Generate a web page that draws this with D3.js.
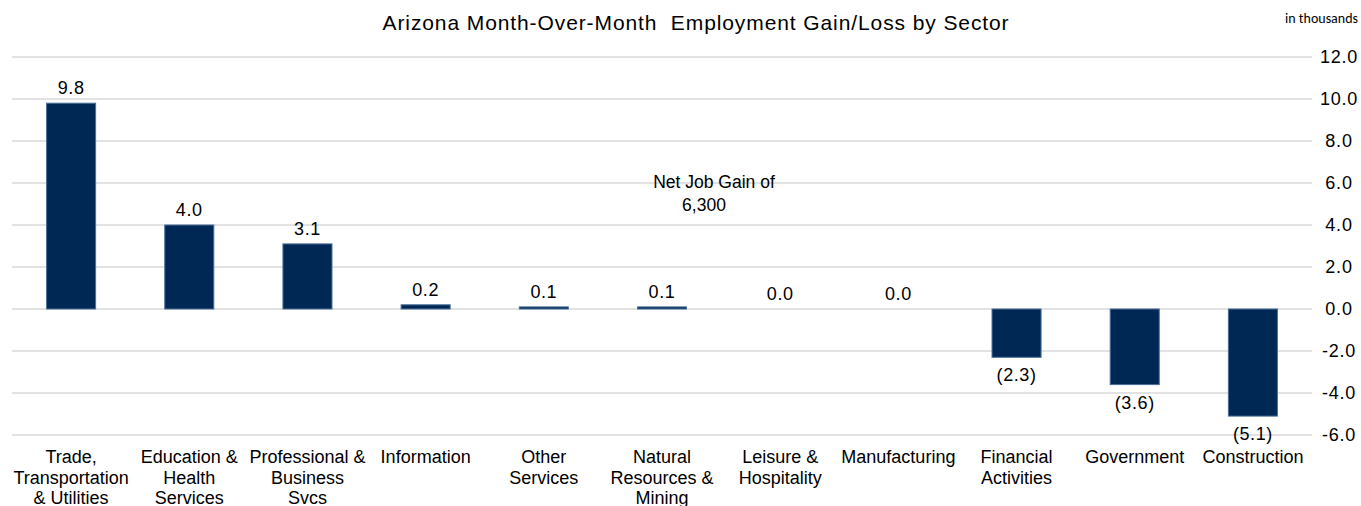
<!DOCTYPE html>
<html>
<head>
<meta charset="utf-8">
<script src="https://cdn.jsdelivr.net/npm/d3@7"></script>
<style>
  body { margin: 0; background: #fff; }
  text { font-family: Arial, "Liberation Sans", sans-serif; fill: #000; }
</style>
</head>
<body>
<div id="chart"></div>
<script>
var W = 1361, H = 506;

// sector names, "\n" marks the line breaks used in the axis labels
var categories = [
  "Trade,\nTransportation\n& Utilities",
  "Education &\nHealth\nServices",
  "Professional &\nBusiness\nSvcs",
  "Information",
  "Other\nServices",
  "Natural\nResources &\nMining",
  "Leisure &\nHospitality",
  "Manufacturing",
  "Financial\nActivities",
  "Government",
  "Construction"
];
var values = [9.8, 4.0, 3.1, 0.2, 0.1, 0.1, 0.0, 0.0, -2.3, -3.6, -5.1];
var yTicks = [12, 10, 8, 6, 4, 2, 0, -2, -4, -6];

var title = "Arizona Month-Over-Month  Employment Gain/Loss by Sector";
var unitNote = "in thousands";
var noteLines = ["Net Job Gain of", "6,300"];

var svg = d3.select("#chart")
  .append("svg")
  .attr("width", W)
  .attr("height", H);

var x = d3.scaleBand()
  .domain(d3.range(categories.length))
  .range([12, 1312])
  .paddingInner(0.585)
  .paddingOuter(0.2925);

var y = d3.scaleLinear()
  .domain([-6, 12])
  .range([435, 57]);

// plain hyphen for negatives, like the source chart
var tickFmt = function (d) { return d3.format(".1f")(d).replace("\u2212", "-"); };

// gridlines
svg.append("g")
  .selectAll("line")
  .data(yTicks)
  .enter()
  .append("line")
  .attr("x1", 12)
  .attr("x2", 1312)
  .attr("y1", function (d) { return y(d); })
  .attr("y2", function (d) { return y(d); })
  .attr("stroke", "#d9d9d9")
  .attr("stroke-width", 1.5);

// right axis, only the labels are visible
var yAxis = svg.append("g")
  .attr("transform", "translate(1339,0)")
  .call(d3.axisRight(y).tickValues(yTicks).tickFormat(tickFmt).tickSize(0).tickPadding(0));
yAxis.select(".domain").remove();
yAxis.selectAll("text")
  .attr("text-anchor", "middle")
  .attr("font-size", 18)
  .attr("letter-spacing", 0.8)
  .style("font-family", "Arial, 'Liberation Sans', sans-serif")
  .attr("fill", "#000");

// bars
svg.append("g")
  .selectAll("rect")
  .data(values)
  .enter()
  .append("rect")
  .attr("x", function (d, i) { return x(i); })
  .attr("width", x.bandwidth())
  .attr("y", function (d) { return y(Math.max(0, d)); })
  .attr("height", function (d) { return Math.abs(y(d) - y(0)); })
  .attr("fill", "#002855")
  .attr("stroke", "#4a6f99")
  .attr("stroke-width", 1);

// value labels
function fmt(d) {
  return d < 0 ? "(" + d3.format(".1f")(-d) + ")" : d3.format(".1f")(d);
}
svg.append("g")
  .selectAll("text")
  .data(values)
  .enter()
  .append("text")
  .attr("x", function (d, i) { return x(i) + x.bandwidth() / 2; })
  .attr("y", function (d) { return d < 0 ? y(d) + 24 : y(d) - 9; })
  .attr("text-anchor", "middle")
  .attr("font-size", 18)
  .attr("letter-spacing", 0.6)
  .text(fmt);

// category labels
var catG = svg.append("g")
  .selectAll("text")
  .data(categories)
  .enter()
  .append("text")
  .attr("text-anchor", "middle")
  .attr("font-size", 18)
  .attr("transform", function (d, i) { return "translate(" + (x(i) + x.bandwidth() / 2) + ",463)"; });
catG.selectAll("tspan")
  .data(function (d) { return d.split("\n"); })
  .enter()
  .append("tspan")
  .attr("x", 0)
  .attr("y", function (d, i) { return i * 20.5; })
  .text(function (d) { return d; });

// title and notes
svg.append("text")
  .attr("x", 696)
  .attr("y", 30)
  .attr("text-anchor", "middle")
  .attr("font-size", 21)
  .attr("letter-spacing", 0.9)
  .style("white-space", "pre")
  .text(title);

svg.append("text")
  .attr("x", 1358)
  .attr("y", 23)
  .attr("text-anchor", "end")
  .attr("font-size", 14)
  .attr("fill", "#222")
  .style("font-family", "Carlito, 'Open Sans', sans-serif")
  .text(unitNote);

svg.append("g")
  .selectAll("text")
  .data(noteLines)
  .enter()
  .append("text")
  .attr("x", function (d, i) { return i == 0 ? 714 : 704; })
  .attr("y", function (d, i) { return 188 + i * 23; })
  .attr("text-anchor", "middle")
  .attr("font-size", 17.5)
  .text(function (d) { return d; });
</script>
</body>
</html>
